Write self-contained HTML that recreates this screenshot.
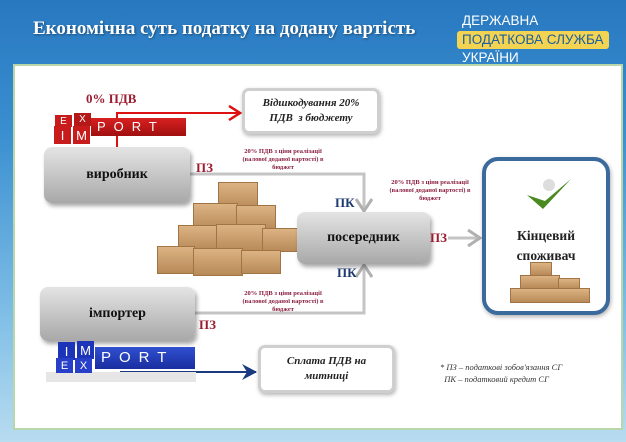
<!DOCTYPE html>
<html><head><meta charset="utf-8"><style>
*{margin:0;padding:0;box-sizing:border-box}
body{width:626px;height:442px;overflow:hidden;position:relative;background:linear-gradient(#2878c0 0%,#3a8fd0 30%,#7dbde6 70%,#b8dcf0 100%);font-family:"Liberation Serif",serif}
.a{position:absolute}
.panel{left:13px;top:64px;width:610px;height:366px;background:#fff;border:2px solid #b9d7a8}
.gbox{position:absolute;border-radius:8px;background:linear-gradient(#e4e4e4,#a8a8a8);box-shadow:2px 3px 4px rgba(0,0,0,.35);display:flex;align-items:center;justify-content:center;font-weight:bold;font-size:14px;color:#111}
.wbox{position:absolute;border-radius:7px;background:#fff;border:3px solid #cfcfcf;box-shadow:1px 2px 4px rgba(0,0,0,.3);display:flex;align-items:center;justify-content:center;text-align:center;font-style:italic;font-weight:bold;font-size:11px;line-height:15px;color:#222}
.red{color:#9b1c30;font-weight:bold}
.sm{font-size:6.5px;line-height:8px;text-align:center;color:#8a2040;font-weight:bold}
.cube{position:absolute;width:17px;height:18px;color:#fff;font-family:"Liberation Sans",sans-serif;font-size:13px;display:flex;align-items:center;justify-content:center}
.box{position:absolute;background:linear-gradient(#dcb383,#b88a58);border:1px solid #a07444}
</style></head><body>
<div class="a" style="left:33px;top:18px;color:#fff;font-size:19px;font-weight:bold;text-shadow:1px 1px 2px rgba(0,0,0,.4)">Економічна суть податку на додану вартість</div>
<div class="a" style="left:462px;top:13px;color:#fff;font-family:'Liberation Sans',sans-serif;font-size:13.5px">ДЕРЖАВНА</div>
<div class="a" style="left:457px;top:31px;width:152px;height:18px;background:#f3d452;border-radius:3px"></div>
<div class="a" style="left:462px;top:32px;color:#1d5da0;font-family:'Liberation Sans',sans-serif;font-size:13.5px">ПОДАТКОВА СЛУЖБА</div>
<div class="a" style="left:462px;top:50px;color:#fff;font-family:'Liberation Sans',sans-serif;font-size:13.5px">УКРАЇНИ</div>
<div class="a panel"></div>

<svg class="a" style="left:0;top:0" width="626" height="442">
<defs>
<marker id="r" markerUnits="userSpaceOnUse" markerWidth="14" markerHeight="16" refX="12" refY="8" orient="auto"><path d="M1,1 L12,8 L1,15" fill="none" stroke="#d11" stroke-width="2.5"/></marker>
<marker id="g" markerUnits="userSpaceOnUse" markerWidth="16" markerHeight="18" refX="13" refY="9" orient="auto"><path d="M1,1 L13,9 L1,17" fill="none" stroke="#b0b0b0" stroke-width="3"/></marker>
<marker id="b" markerUnits="userSpaceOnUse" markerWidth="16" markerHeight="18" refX="14" refY="9" orient="auto"><path d="M0,1 L15,9 L0,17 L5,9z" fill="#1a3a80"/></marker>
</defs>
<polyline points="117,148 117,113 240,113" fill="none" stroke="#d11" stroke-width="2" marker-end="url(#r)"/>
<polyline points="190,174 364,174 364,211" fill="none" stroke="#c4c4c4" stroke-width="3" marker-end="url(#g)"/>
<polyline points="195,313 364,313 364,265" fill="none" stroke="#c4c4c4" stroke-width="3" marker-end="url(#g)"/>
<line x1="448" y1="238" x2="480" y2="238" stroke="#c4c4c4" stroke-width="3" marker-end="url(#g)"/>
<line x1="120" y1="372" x2="256" y2="372" stroke="#1a3a80" stroke-width="2" marker-end="url(#b)"/>
</svg>

<div class="a red" style="left:86px;top:91px;font-size:13px">0% ПДВ</div>
<div class="cube" style="left:55px;top:115px;background:#c81c1c;height:12px;font-size:10px">E</div>
<div class="cube" style="left:74px;top:113px;background:#b51818;height:13px;font-size:10px">X</div>
<div class="cube" style="left:54px;top:126px;background:#c81c1c">I</div>
<div class="cube" style="left:73px;top:126px;background:#c81c1c">M</div>
<div class="a" style="left:91px;top:118px;width:95px;height:18px;background:linear-gradient(#d82020,#a01010);color:#fff;font-family:'Liberation Sans',sans-serif;font-size:13px;letter-spacing:8px;padding-left:6px;line-height:18px">PORT</div>

<div class="wbox" style="left:242px;top:88px;width:138px;height:46px">Відшкодування 20%<br>ПДВ&nbsp; з бюджету</div>
<div class="gbox" style="left:44px;top:147px;width:146px;height:56px">виробник</div>
<div class="a red" style="left:196px;top:160px;font-size:13px">ПЗ</div>
<div class="a sm" style="left:233px;top:148px;width:100px">20% ПДВ з ціни реалізації<br>(валової доданої вартості) в<br>бюджет</div>

<div class="box" style="left:218px;top:182px;width:40px;height:28px"></div>
<div class="box" style="left:193px;top:203px;width:45px;height:28px"></div>
<div class="box" style="left:236px;top:205px;width:40px;height:26px"></div>
<div class="box" style="left:178px;top:225px;width:40px;height:26px"></div>
<div class="box" style="left:216px;top:224px;width:50px;height:28px"></div>
<div class="box" style="left:262px;top:228px;width:36px;height:24px"></div>
<div class="box" style="left:157px;top:246px;width:38px;height:28px"></div>
<div class="box" style="left:193px;top:248px;width:50px;height:28px"></div>
<div class="box" style="left:241px;top:250px;width:40px;height:24px"></div>

<div class="gbox" style="left:297px;top:212px;width:133px;height:52px">посередник</div>
<div class="a" style="left:335px;top:195px;font-size:13px;font-weight:bold;color:#1e3a70">ПК</div>
<div class="a" style="left:337px;top:265px;font-size:13px;font-weight:bold;color:#1e3a70">ПК</div>
<div class="a red" style="left:430px;top:230px;font-size:13px">ПЗ</div>
<div class="a sm" style="left:382px;top:179px;width:96px">20% ПДВ з ціни реалізації<br>(валової доданої вартості) в<br>бюджет</div>

<div class="a" style="left:482px;top:157px;width:128px;height:158px;border:4px solid #3b6a9c;border-radius:16px;background:#fff;box-shadow:1px 2px 4px rgba(0,0,0,.3)"></div>
<svg class="a" style="left:525px;top:175px" width="50" height="40"><path d="M2,20 L18,34 L46,4 L20,26z" fill="#4a8a20"/><circle cx="24" cy="10" r="6" fill="#ddd"/></svg>
<div class="a" style="left:482px;top:226px;width:128px;text-align:center;font-weight:bold;font-size:13.5px;line-height:20px;color:#222">Кінцевий<br>споживач</div>
<div class="box" style="left:530px;top:262px;width:22px;height:14px"></div>
<div class="box" style="left:520px;top:275px;width:40px;height:14px"></div>
<div class="box" style="left:558px;top:278px;width:22px;height:12px"></div>
<div class="box" style="left:510px;top:288px;width:80px;height:15px"></div>

<div class="gbox" style="left:40px;top:287px;width:155px;height:54px">імпортер</div>
<div class="a red" style="left:199px;top:317px;font-size:13px">ПЗ</div>
<div class="a sm" style="left:233px;top:290px;width:100px">20% ПДВ з ціни реалізації<br>(валової доданої вартості) в<br>бюджет</div>

<div class="a" style="left:46px;top:372px;width:150px;height:10px;background:#e6e6e6"></div>
<div class="cube" style="left:58px;top:342px;background:#1c34b8">I</div>
<div class="cube" style="left:77px;top:341px;background:#1c34b8">M</div>
<div class="cube" style="left:56px;top:358px;background:#2840c8;height:15px;font-size:11px">E</div>
<div class="cube" style="left:75px;top:358px;background:#2840c8;height:15px;font-size:11px">X</div>
<div class="a" style="left:95px;top:347px;width:100px;height:22px;background:linear-gradient(#3050d0,#1a2ea0);color:#fff;font-family:'Liberation Sans',sans-serif;font-size:15px;letter-spacing:8px;padding-left:6px;line-height:22px">PORT</div>

<div class="wbox" style="left:258px;top:345px;width:137px;height:48px">Сплата ПДВ на<br>митниці</div>
<div class="a" style="left:440px;top:361px;font-style:italic;font-size:8.5px;line-height:12px;color:#333">* ПЗ – податкові зобов'язання СГ<br>&nbsp;&nbsp;ПК – податковий кредит СГ</div>
</body></html>
